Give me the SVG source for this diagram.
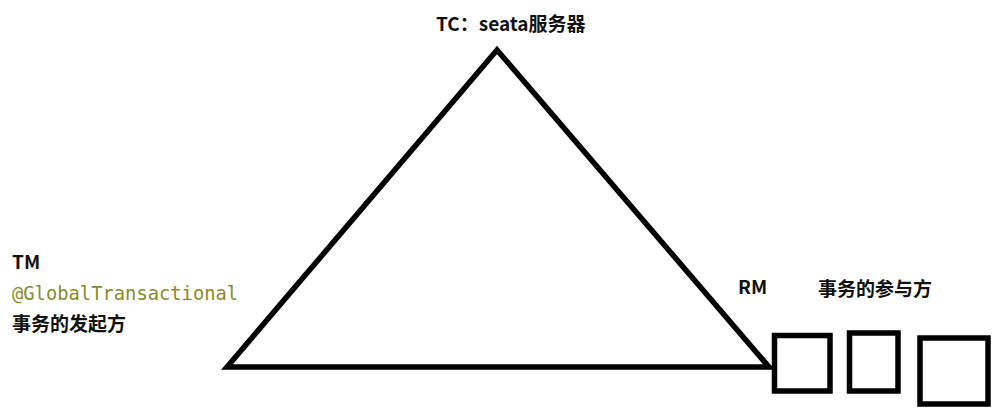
<svg xmlns="http://www.w3.org/2000/svg" width="1004" height="418" viewBox="0 0 1004 418">
<style>
.lbl{font-family:"Noto Sans CJK SC","Liberation Sans",sans-serif;font-weight:bold;font-size:19px;fill:#111}
.code{font-family:"DejaVu Sans Mono","Liberation Mono",monospace;font-size:18.8px;fill:#8a8a2c}
.shape{fill:none;stroke:#000;stroke-width:5.5;stroke-linejoin:miter}
</style>
<rect width="1004" height="418" fill="#fff"/>
<g id="tc">
<text class="lbl" x="436" y="31">TC：seata服务器</text>
</g>
<g id="tm">
<text class="lbl" x="12" y="269">TM</text>
<text class="code" x="12" y="300">@GlobalTransactional</text>
<text class="lbl" x="12" y="331">事务的发起方</text>
</g>
<g id="rm">
<text class="lbl" x="738" y="294">RM</text>
<text class="lbl" x="818" y="296">事务的参与方</text>
</g>
<g id="connectors">
<polygon class="shape" points="497,50 227,367 769,367"/>
</g>
<g id="participants">
<rect class="shape" x="774.5" y="335.5" width="55.5" height="55.5"/>
<rect class="shape" x="849.5" y="333" width="48.5" height="58"/>
<rect class="shape" x="920" y="338" width="68" height="66"/>
</g>
</svg>
